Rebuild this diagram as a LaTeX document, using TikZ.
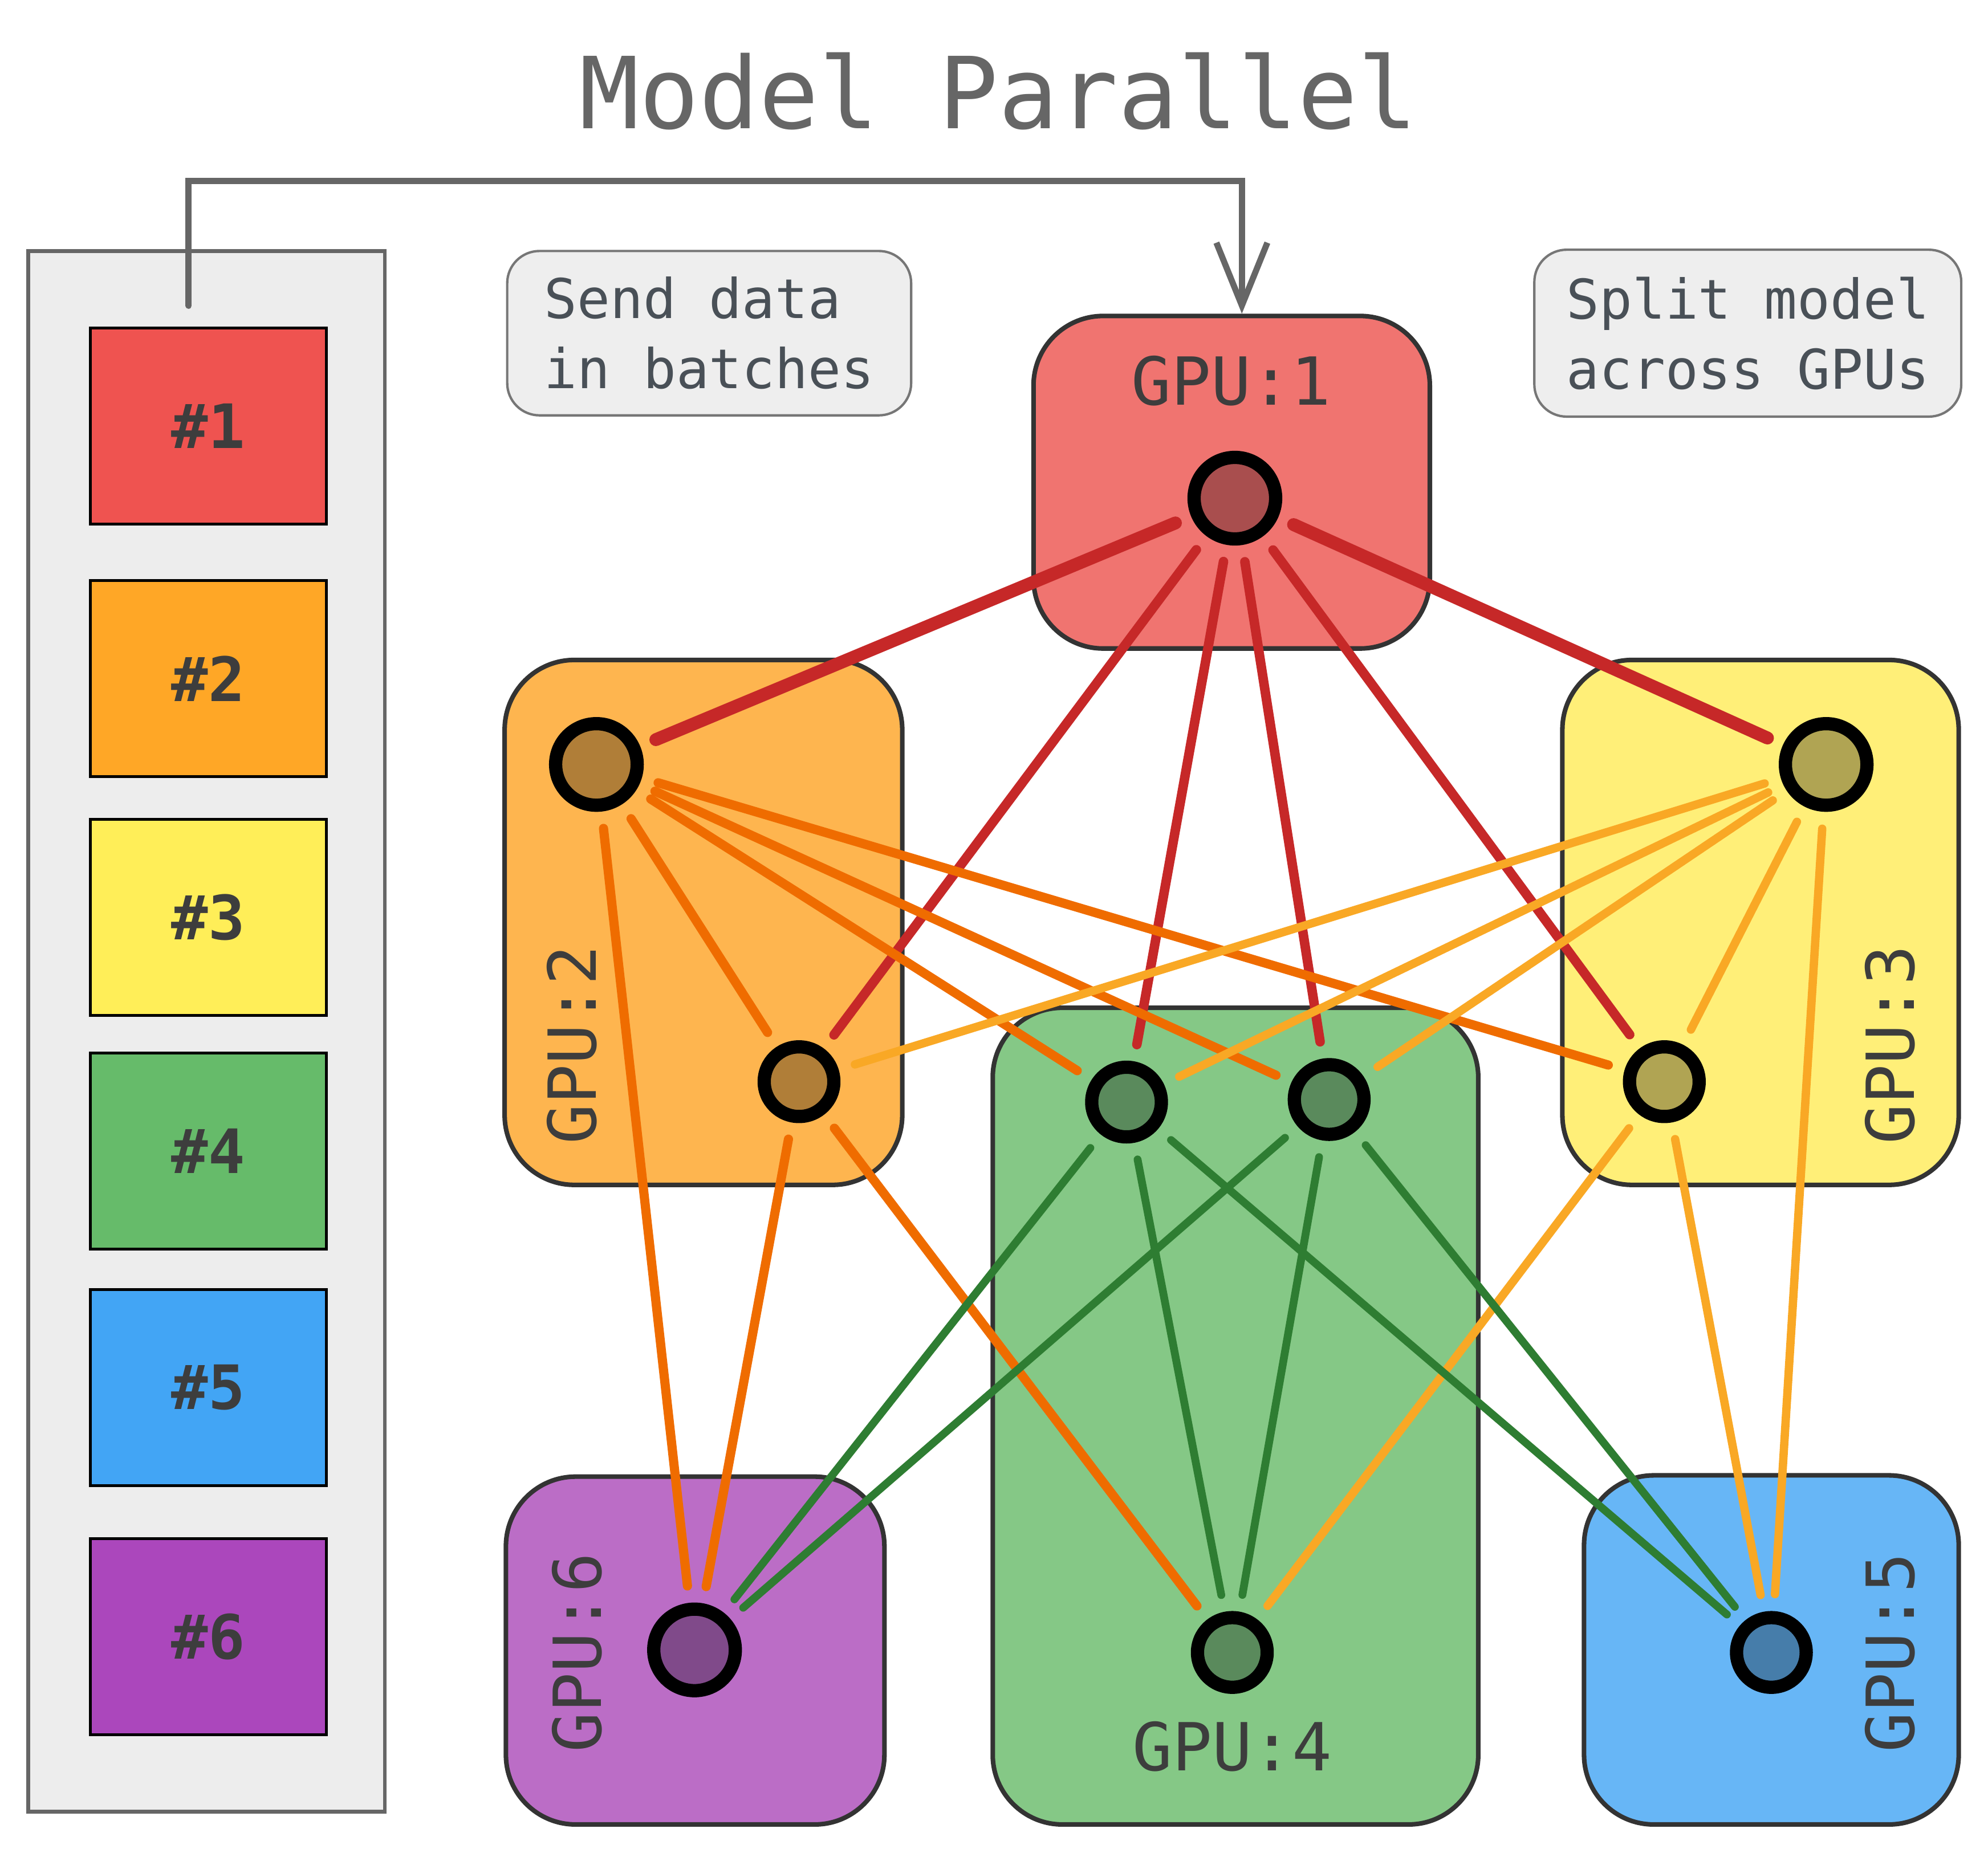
\documentclass[tikz,border=0pt]{standalone}
\usepackage{fontspec}
\setmonofont{DejaVu Sans Mono}
\usetikzlibrary{arrows.meta,fit}

\definecolor{ink}{HTML}{3D3D3D}
\definecolor{titlegray}{HTML}{666666}
\definecolor{boxline}{HTML}{333333}
\definecolor{panelfill}{HTML}{EDEDED}
\definecolor{panelline}{HTML}{666666}
\definecolor{notefill}{HTML}{EEEEEE}
\definecolor{noteline}{HTML}{767676}
\definecolor{notetext}{HTML}{495057}
\definecolor{bA}{HTML}{EF5350}
\definecolor{bB}{HTML}{FFA726}
\definecolor{bC}{HTML}{FFEE58}
\definecolor{bD}{HTML}{66BB6A}
\definecolor{bE}{HTML}{42A5F5}
\definecolor{bF}{HTML}{AB47BC}
\definecolor{gpuA}{HTML}{F07470}
\definecolor{gpuB}{HTML}{FEB54F}
\definecolor{gpuC}{HTML}{FFEF78}
\definecolor{gpuD}{HTML}{85C886}
\definecolor{gpuE}{HTML}{67B6F6}
\definecolor{gpuF}{HTML}{BB6DC6}
\definecolor{nA}{HTML}{A94E4E}
\definecolor{nB}{HTML}{B07E38}
\definecolor{nC}{HTML}{B0A453}
\definecolor{nD}{HTML}{5A8A5C}
\definecolor{nE}{HTML}{467DAA}
\definecolor{nF}{HTML}{804A8A}
\definecolor{ered}{HTML}{C62828}
\definecolor{eorange}{HTML}{EF6C00}
\definecolor{eyellow}{HTML}{F9A825}
\definecolor{egreen}{HTML}{2E7D32}

\begin{document}
\begin{tikzpicture}[x=0.75pt,y=0.75pt,yscale=-1,xscale=1,
  gpubox/.style={draw=boxline, line width=2.7pt, rounded corners=41pt, inner sep=0pt},
  gpulbl/.style={text=ink, font=\ttfamily\fontsize{39}{39}\selectfont, inner sep=0pt},
  batch/.style={draw=black, line width=1.6pt, minimum width=138.75pt, minimum height=115.5pt, inner sep=0pt, text=ink, font=\ttfamily\bfseries\fontsize{36}{36}\selectfont},
  notebox/.style={draw=noteline, fill=notefill, line width=1.4pt, rounded corners=19pt, align=left, text=notetext, font=\ttfamily\fontsize{32.25}{41.25}\selectfont},
  nrn/.style={circle, draw=black, line width=7.8pt, minimum size=41pt, inner sep=0pt},
  big/.style={minimum size=48pt},
  edge/.style={line cap=round, shorten <=10pt, shorten >=10pt},
  ered/.style={edge, draw=ered, line width=5.6pt},
  eorange/.style={edge, draw=eorange, line width=5.4pt},
  eyellow/.style={edge, draw=eyellow, line width=4.9pt},
  egreen/.style={edge, draw=egreen, line width=4.6pt}]
\useasboundingbox (0,0) rectangle (1560,1454);

% Title
\node[text=titlegray, font=\ttfamily\fontsize{58.5}{58.5}\selectfont, anchor=base, inner sep=0pt] (title) at (783.5,101) {Model Parallel};

%Shape: batches panel
\node[draw=panelline, fill=panelfill, line width=2.25pt, inner sep=0pt, fit={(22,197) (302,1422)}] (panel) {};
\node[batch, fill=bA] (b1) at (163.5,334.5) {\#1};
\node[batch, fill=bB] (b2) at (163.5,532.5) {\#2};
\node[batch, fill=bC] (b3) at (163.5,720) {\#3};
\node[batch, fill=bD] (b4) at (163.5,903.5) {\#4};
\node[batch, fill=bE] (b5) at (163.5,1089) {\#5};
\node[batch, fill=bF] (b6) at (163.5,1284.5) {\#6};

% Text Node
\node[notebox, minimum width=237.75pt, minimum height=96.75pt] (send) at (556.5,261.5) {Send data\\in batches};
% Text Node
\node[notebox, minimum width=251.25pt, minimum height=98.25pt] (split) at (1371.5,261.5) {Split model\\across GPUs};

%Shape: GPU boxes
\node[gpubox, fill=gpuA, fit={(811,248) (1122,509)}] (gpu1) {};
\node[gpubox, fill=gpuB, fit={(396,518) (708,930)}] (gpu2) {};
\node[gpubox, fill=gpuC, fit={(1226,518) (1537,930)}] (gpu3) {};
\node[gpubox, fill=gpuD, fit={(779,791) (1160,1432)}] (gpu4) {};
\node[gpubox, fill=gpuE, fit={(1243,1158) (1537,1432)}] (gpu5) {};
\node[gpubox, fill=gpuF, fit={(397,1159) (694,1432)}] (gpu6) {};

% Text Node
\node[gpulbl] (l1) at (966,299) {GPU:1};
\node[gpulbl, rotate=90] (l2) at (449,820) {GPU:2};
\node[gpulbl, rotate=90] (l3) at (1483,820) {GPU:3};
\node[gpulbl] (l4) at (967,1371) {GPU:4};
\node[gpulbl, rotate=90] (l5) at (1483,1297) {GPU:5};
\node[gpulbl, rotate=90] (l6) at (453,1297) {GPU:6};

%Arrow: batches to GPU:1
\coordinate (bstart) at (148,240);
\draw[draw=panelline, line width=3.6pt, line cap=round, -{Straight Barb[length=37pt,width=30pt]}] (bstart) -- ++(0,-98) -| ([xshift=6pt]gpu1.north);

%Shape: neurons
\node[nrn, big, fill=nA] (n1) at (969,391) {};
\node[nrn, big, fill=nB] (n2a) at (468,600) {};
\node[nrn, big, fill=nC] (n3a) at (1433,600) {};
\node[nrn, fill=nB] (n2b) at (627,849) {};
\node[nrn, fill=nD] (n4a) at (884,865) {};
\node[nrn, fill=nD] (n4b) at (1043,863) {};
\node[nrn, fill=nC] (n3b) at (1306,849) {};
\node[nrn, big, fill=nF] (n6) at (545,1295) {};
\node[nrn, fill=nD] (n4c) at (967,1297) {};
\node[nrn, fill=nE] (n5) at (1390,1297) {};

%Straight Lines: from GPU:1
\draw[ered, line width=7.6pt] (n1) -- (n2a);
\draw[ered, line width=7.6pt] (n1) -- (n3a);
\draw[ered] (n1) -- (n2b);
\draw[ered] (n1) -- (n4a);
\draw[ered] (n1) -- (n4b);
\draw[ered] (n1) -- (n3b);
%Straight Lines: from GPU:2
\draw[eorange] (n2a) -- (n2b);
\draw[eorange] (n2a) -- (n4a);
\draw[eorange] (n2a) -- (n4b);
\draw[eorange] (n2a) -- (n3b);
\draw[eorange] (n2a) -- (n6);
\draw[eorange] (n2b) -- (n6);
\draw[eorange] (n2b) -- (n4c);
%Straight Lines: from GPU:3
\draw[eyellow] (n3a) -- (n2b);
\draw[eyellow] (n3a) -- (n4a);
\draw[eyellow] (n3a) -- (n4b);
\draw[eyellow] (n3a) -- (n3b);
\draw[eyellow] (n3a) -- (n5);
\draw[eyellow] (n3b) -- (n4c);
\draw[eyellow] (n3b) -- (n5);
%Straight Lines: from GPU:4
\draw[egreen] (n4a) -- (n6);
\draw[egreen] (n4a) -- (n4c);
\draw[egreen] (n4a) -- (n5);
\draw[egreen] (n4b) -- (n6);
\draw[egreen] (n4b) -- (n4c);
\draw[egreen] (n4b) -- (n5);
\end{tikzpicture}
\end{document}
